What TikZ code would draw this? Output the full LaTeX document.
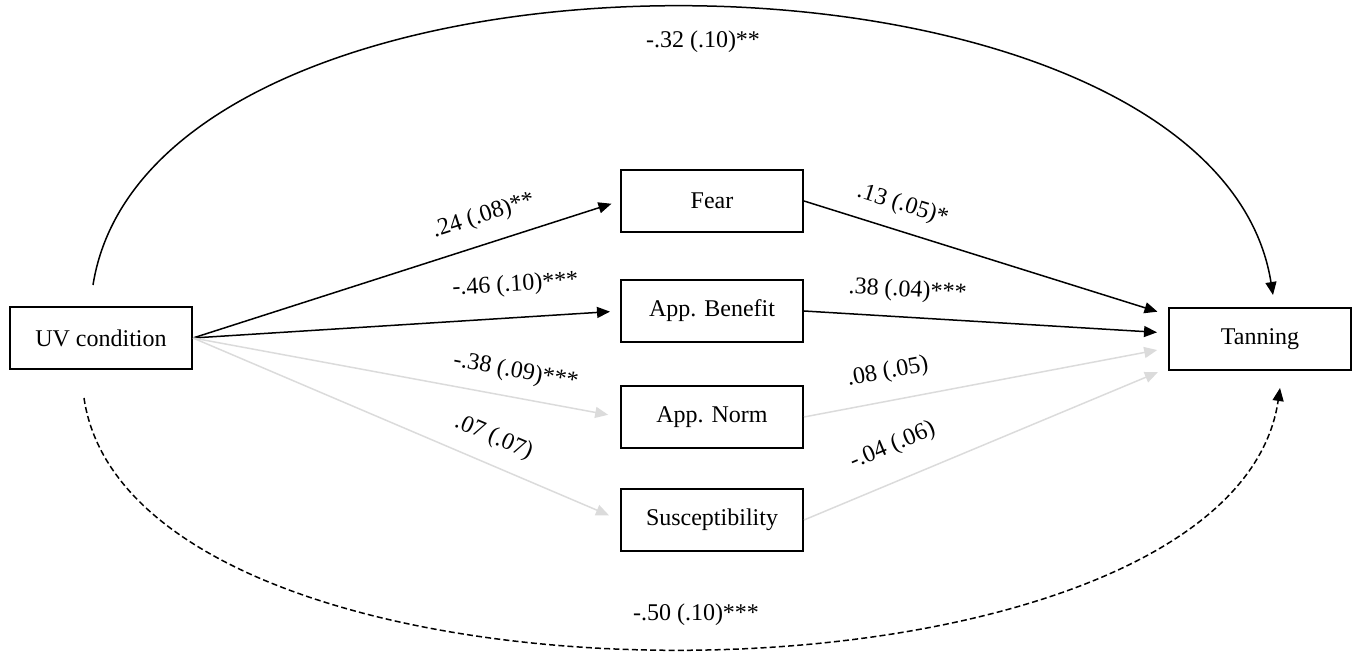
\documentclass[tikz,border=0pt]{standalone}
\usepackage{fontspec}
\setmainfont{Liberation Serif}
\usetikzlibrary{positioning, arrows.meta}
\definecolor{faint}{gray}{0.86}
\tikzset{
->,% makes the edges directed
>={Triangle[length=6.5pt,width=5.5pt]}, % filled arrow heads
every node/.style={font=\fontsize{12}{14}\selectfont}, % text size of all nodes
var/.style={draw, line width=1pt, minimum width=91pt, minimum height=31pt}, % box of a variable
link/.style={line width=0.75pt}, % significant path
weak/.style={faint, line width=0.75pt}, % path that is not significant
coef/.style={sloped, above=#1, text=black}, % coefficient written along a path
}

\begin{document}
\begin{tikzpicture}[x=0.5pt, y=-0.5pt]
        \useasboundingbox (0,0) rectangle (1360,656);
        \node[var] (UV) at (101,338) {UV condition};
        \node[var] (FEAR) at (712,201) {Fear};
        \node[var, below=23pt of FEAR] (BENEFIT) {App. Benefit};
        \node[var, below=21pt of BENEFIT] (NORM) {App. Norm};
        \node[var, below=19.5pt of NORM] (SUSC) {Susceptibility};
        \node[var] (TAN) at (1260,339) {Tanning};

        % a paths
        \path[link] (UV.east) edge[shorten >=4.5pt] node[coef=4.5pt, pos=.7]{.24 (.08)**} (FEAR.west)
              (UV.east) edge[shorten >=5pt] node[coef=7pt, pos=.76]{-.46 (.10)***} (BENEFIT.west);
        \path[weak] (UV.east) edge[shorten >=6pt] node[coef=3.5pt, pos=.745]{-.38 (.09)***} (NORM.west)
              (UV.east) edge[shorten >=6pt] node[coef=4pt, pos=.68]{.07 (.07)} (SUSC.west);

        % b paths
        \path[link] (FEAR.east) edge[shorten >=5.5pt] node[coef=3.5pt, pos=.25]{.13 (.05)*} ([yshift=12pt]TAN.west)
              (BENEFIT.east) edge[shorten >=5.5pt] node[coef=4pt, pos=.28]{.38 (.04)***} ([yshift=3pt]TAN.west);
        \path[weak] (NORM.east) edge[shorten >=5.5pt] node[coef=5pt, pos=.245]{.08 (.05)} ([yshift=-4.5pt]TAN.west)
              (SUSC.east) edge[shorten >=5.5pt] node[coef=8pt, pos=.28]{-.04 (.06)} ([yshift=-14.5pt]TAN.west);

        % total and direct effect
        \draw[link] ([xshift=-4pt, yshift=10.5pt]UV.north) .. controls +(60,-377) and +(-60,-377) .. ([xshift=6.5pt, yshift=6pt]TAN.north)
              node[midway, below=8pt, xshift=10pt]{-.32 (.10)**};
        \draw[link, dash pattern=on 3pt off 1.6pt] ([xshift=-8.5pt, yshift=-14pt]UV.south) .. controls +(50,341) and +(-50,341) .. ([xshift=10pt, yshift=-8.5pt]TAN.south)
              node[midway, above=8pt, xshift=7pt]{-.50 (.10)***};
\end{tikzpicture}
\end{document}
